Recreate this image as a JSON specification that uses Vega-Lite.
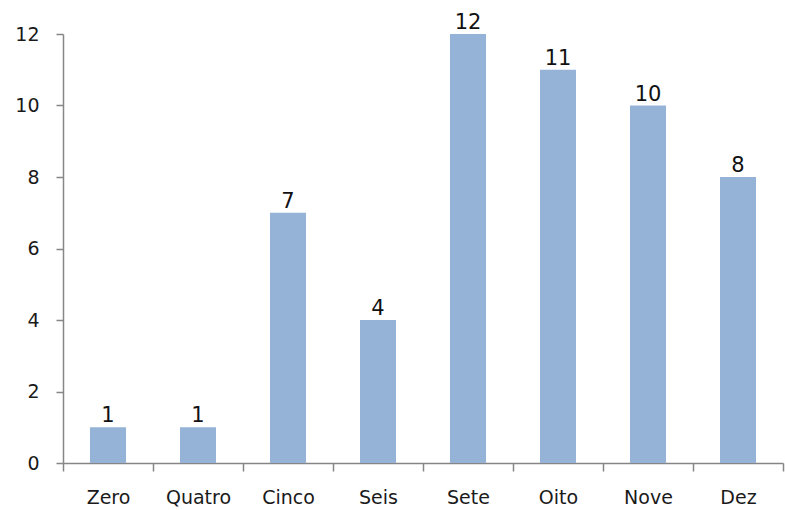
{
  "$schema": "https://vega.github.io/schema/vega-lite/v6.json",
  "width": 720,
  "height": 429,
  "autosize": {"type": "none"},
  "padding": {"left": 63, "top": 34, "right": 2, "bottom": 47},
  "background": "white",
  "config": {"view": {"stroke": null}, "font": "DejaVu Sans"},
  "data": {"values": [
    {"categoria": "Zero", "valor": 1},
    {"categoria": "Quatro", "valor": 1},
    {"categoria": "Cinco", "valor": 7},
    {"categoria": "Seis", "valor": 4},
    {"categoria": "Sete", "valor": 12},
    {"categoria": "Oito", "valor": 11},
    {"categoria": "Nove", "valor": 10},
    {"categoria": "Dez", "valor": 8}
  ]},
  "encoding": {
    "x": {"field": "categoria", "type": "nominal", "sort": null,
      "scale": {"paddingInner": 0, "paddingOuter": 0},
      "axis": {"title": null, "labelAngle": 0, "labelFontSize": 19, "labelColor": "#1a1a1a", "labelPadding": 17,
        "domainColor": "#868686", "tickColor": "#868686", "tickSize": 8, "tickBand": "extent", "domainWidth": 1.5, "tickWidth": 1.5, "grid": false}},
    "y": {"field": "valor", "type": "quantitative", "scale": {"domain": [0, 12]},
      "axis": {"title": null, "values": [0, 2, 4, 6, 8, 10, 12], "labelFontSize": 19, "labelColor": "#1a1a1a", "labelPadding": 17,
        "domainColor": "#868686", "tickColor": "#868686", "tickSize": 7, "domainWidth": 1.5, "tickWidth": 1.5, "grid": false}}
  },
  "layer": [
    {"mark": {"type": "bar", "color": "#95B3D7", "width": {"band": 0.4}}},
    {"mark": {"type": "text", "baseline": "bottom", "dy": -1, "fontSize": 21, "color": "#111"},
      "encoding": {"text": {"field": "valor", "type": "quantitative"}}}
  ]
}
